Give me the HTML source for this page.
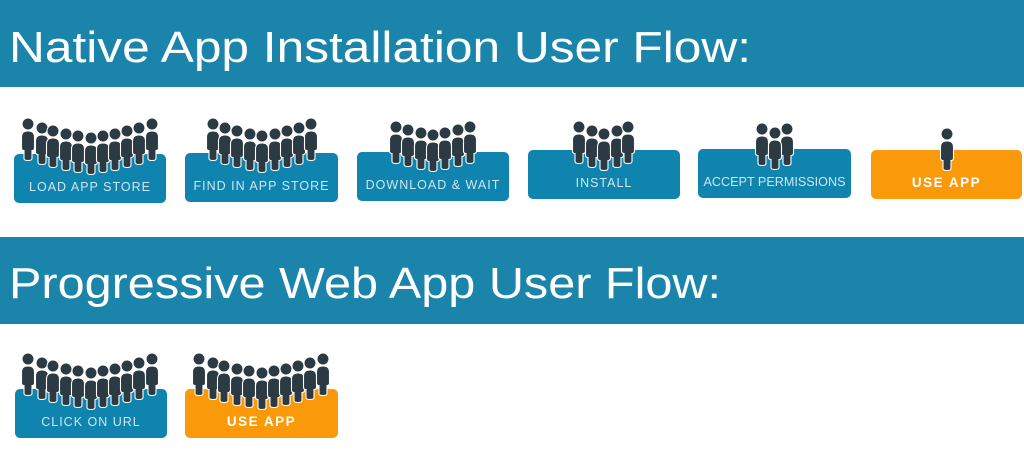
<!DOCTYPE html>
<html><head><meta charset="utf-8"><style>
html,body{margin:0;padding:0;background:#fff;width:1024px;height:459px;overflow:hidden}
svg{display:block}
</style></head><body>
<svg id="s" width="1024" height="459" viewBox="0 0 1024 459" xmlns="http://www.w3.org/2000/svg" font-family="Liberation Sans, sans-serif">
<rect x="0" y="0" width="1024" height="87" fill="#1a84ab"/>
<text x="9" y="62" fill="#fff" font-size="44" textLength="742" lengthAdjust="spacingAndGlyphs">Native App Installation User Flow:</text>
<rect x="0" y="237" width="1024" height="87" fill="#1a84ab"/>
<text x="9" y="298" fill="#fff" font-size="44" textLength="712" lengthAdjust="spacingAndGlyphs">Progressive Web App User Flow:</text>
<g id="boxes"></g>
</svg>
<script>
var g=document.getElementById('boxes'),h='';
var B='#0f84ae',O='#fa9a0a',P='#2b3a43';
function box(x,y,w,c,label,bold,tl){
  h+='<rect x="'+x+'" y="'+y+'" width="'+w+'" height="49" rx="5" fill="'+c+'"/>';
  h+='<text x="'+(x+w/2)+'" y="'+(y+37)+'" text-anchor="middle" font-size="'+(bold?13.5:12.5)+'" '+(bold?'font-weight="bold" fill="#fff" letter-spacing="1.5"':'fill="#cde6ef"'+(tl?'':' letter-spacing="1"'))+(tl?' textLength="'+tl+'" lengthAdjust="spacingAndGlyphs"':'')+'>'+label+'</text>';
}
function person(x,hy){
  h+='<g fill="'+P+'" stroke="#fff" stroke-width="1.1" transform="translate('+x+','+hy+')">';
  h+='<path d="M-6.5,13 q0,-6 6.5,-6 q6.5,0 6.5,6 v11 q0,2.5 -2.5,2.5 v8 q0,2 -4,2 q-4,0 -4,-2 v-8 q-2.5,0 -2.5,-2.5 z"/>';
  h+='<circle cx="0" cy="0" r="6"/></g>';
}
function crowd(xs,ys){for(var i=0;i<xs.length;i++)person(xs[i],ys[i]);}
box(14,154,152,B,'LOAD APP STORE');
box(185,153,153,B,'FIND IN APP STORE');
box(357,152,152,B,'DOWNLOAD &amp; WAIT');
box(528,150,152,B,'INSTALL');
box(698,149,153,B,'ACCEPT PERMISSIONS',false,142);
box(871,150,151,O,'USE APP',true);
box(15,389,152,B,'CLICK ON URL');
box(185,389,153,O,'USE APP',true);
var x11=[28,42,53,66,78,91,103,115,127,139,152],y11=[124,128,131,134,136,138,136,134,131,128,124];
crowd(x11,y11);
crowd([213,225,237,250,262,275,287,299,311],[124,128,131,134,136,134,131,128,124]);
crowd([396,408,421,433,445,458,470],[127,130,133,135,133,130,127]);
crowd([579,592,604,617,628],[127,131,134,131,127]);
person(762,129);person(787,129);person(775,133);
person(947,134);
crowd(x11,y11.map(function(v){return v+235;}));
crowd(x11.map(function(v){return v+171;}),y11.map(function(v){return v+235;}));
g.innerHTML=h;
</script>
</body></html>
